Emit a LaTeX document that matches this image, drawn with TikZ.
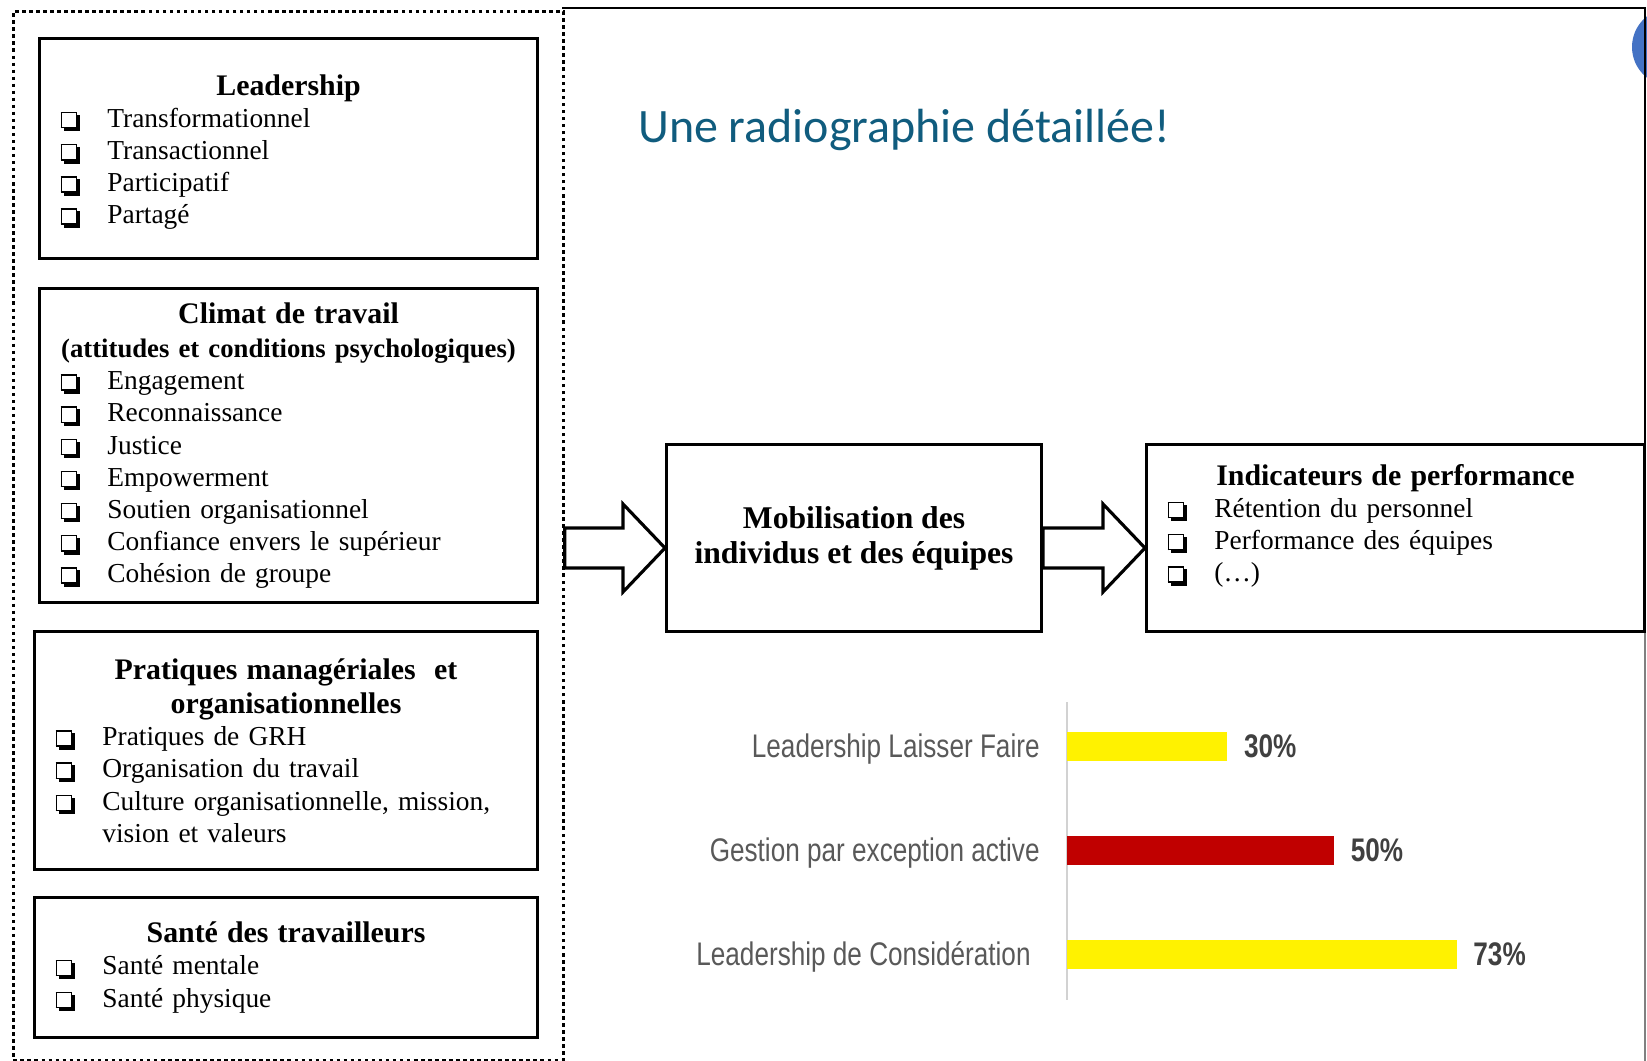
\documentclass[tikz,border=0pt]{standalone}
\usepackage{fontspec}
\setmainfont{Liberation Serif}
\newfontfamily\titlefont{Carlito}
\newfontfamily\chartfont[FakeStretch=0.8]{Liberation Sans}
\usetikzlibrary{positioning}
\usetikzlibrary{calc}

\definecolor{titleblue}{RGB}{16,92,126}
\definecolor{dotblue}{RGB}{68,114,196}
\definecolor{barred}{RGB}{192,0,0}
\definecolor{labelgray}{RGB}{89,89,89}
\definecolor{valuegray}{RGB}{64,64,64}
\definecolor{axisgray}{RGB}{210,210,210}

% shadowed check box made of rules
\newcommand{\chk}{\raisebox{-0.6pt}{%
  \rlap{\hspace{1.7pt}\raisebox{-1.7pt}{\rule{9.4pt}{9.4pt}}}%
  \rlap{\textcolor{white}{\rule{9.4pt}{9.4pt}}}%
  \rlap{\rule{9.4pt}{0.8pt}}\rlap{\rule{0.8pt}{9.4pt}}%
  \rlap{\hspace{8.6pt}\rule{0.8pt}{9.4pt}}\rlap{\raisebox{8.6pt}{\rule{9.4pt}{0.8pt}}}}}
\newcommand{\itm}[1]{\par\noindent\makebox[26.6pt][l]{\chk}%
  \parbox[t]{\dimexpr\hsize-26.6pt\relax}{\raggedright #1}}
\newcommand{\boxtitle}[1]{{\centering\bfseries\fontsize{17}{19.5}\selectfont #1\par}}

% block arrow from #1 to the tip #2
\newcommand{\bigarrow}[2]{%
  \draw[blockarrow] ($(#1)+(0,-20)$) -- ($(#2)+(-42,-20)$) -- ($(#2)+(-42,-44)$) -- (#2)
    -- ($(#2)+(-42,44)$) -- ($(#2)+(-42,20)$) -- ($(#1)+(0,20)$) -- cycle;}

\begin{document}
\begin{tikzpicture}
    [
      x = 0.02cm, y = -0.02cm,
      box/.style = {draw, line width=1.8pt, inner xsep=12pt, inner ysep=2pt,
                    font=\fontsize{15.6}{18.3}\selectfont\raggedright},
      framebox/.style = {draw, line width=1.6pt, dash pattern=on 2pt off 2pt},
      blockarrow/.style = {draw, fill=white, line width=1.8pt, line join=miter},
      bar/.style = {inner sep=0pt, minimum height=0.58cm},
      catlabel/.style = {inner sep=0pt, text=labelgray, font=\chartfont\fontsize{18.6}{20}\selectfont},
      value/.style = {inner sep=0pt, text=valuegray, font=\chartfont\bfseries\fontsize{18.6}{20}\selectfont},
    ]

    \useasboundingbox (0,0) rectangle (1647,1061);

    % slide frame and corner dot
    \begin{scope}
      \clip (0,0) rectangle (1647,1061);
      \fill[dotblue] (1671,47) circle[radius=0.78cm];
    \end{scope}
    \draw[line width=1.6pt] (562,8) -- (1645,8) -- (1645,443);
    \draw[gray, line width=0.6pt] (1645,630) -- (1645,1061);

    \node[framebox, minimum width=11cm, minimum height=20.98cm, anchor=north west] (frame) at (12,10) {};

    \node[anchor=base west, text=titleblue, font=\titlefont\fontsize{27.3}{30}\selectfont]
      (heading) at (632,143) {Une radiographie détaillée!};

    % determinants
    \node[box, anchor=north west, text width=9.96cm-24pt, minimum height=4.4cm] (lead) at (38,37) {
      \hrule height 0pt\kern4pt
      \boxtitle{Leadership}
      \itm{Transformationnel}
      \itm{Transactionnel}
      \itm{Participatif}
      \itm{Partagé}
    };

    \node[box, anchor=north west, text width=9.96cm-24pt, minimum height=6.28cm] (climat) at (38,287) {
      \boxtitle{Climat de travail\\
        {\fontsize{15.2}{19.5}\selectfont(attitudes et conditions psychologiques)}}
      \itm{Engagement}
      \itm{Reconnaissance}
      \itm{Justice}
      \itm{Empowerment}
      \itm{Soutien organisationnel}
      \itm{Confiance envers le supérieur}
      \itm{Cohésion de groupe}
    };

    \node[box, anchor=north west, text width=10.06cm-24pt, minimum height=4.76cm] (pratiques) at (33,630) {
      \boxtitle{Pratiques managériales\ \ et\\organisationnelles}
      \itm{Pratiques de GRH}
      \itm{Organisation du travail}
      \itm{Culture organisationnelle, mission,\\vision et valeurs}
    };

    \node[box, anchor=north west, text width=10.06cm-24pt, minimum height=2.8cm] (sante) at (33,896) {
      \boxtitle{Santé des travailleurs}
      \itm{Santé mentale}
      \itm{Santé physique}
    };

    % mobilisation and outcomes
    \node[box, anchor=north west, align=center, minimum width=7.5cm, minimum height=3.74cm,
          font=\bfseries\fontsize{18}{19.8}\selectfont] (mob) at (665,443)
      {Mobilisation des\\individus et des équipes};

    \node[box, anchor=north west, text width=9.96cm-24pt, minimum height=3.74cm] (ind) at (1145,443) {
      \boxtitle{Indicateurs de performance}
      \itm{Rétention du personnel}
      \itm{Performance des équipes}
      \itm{(\dots)}
      \par\kern14pt\hrule height 0pt
    };

    \coordinate (mid) at (0,548);
    \bigarrow{frame.east |- mid}{mob.west |- mid}
    \bigarrow{mob.east |- mid}{ind.west |- mid}

    % bar chart
    \draw[axisgray, line width=0.8pt] (1067,702) -- (1067,1000);
    \foreach \lbl/\val/\col/\yy/\xx [count=\i] in {Leadership Laisser Faire/30/yellow/746/1040,
        Gestion par exception active/50/barred/850/1040,
        Leadership de Considération/73/yellow/954/1031}
    {
      \node[bar, fill=\col, minimum width=\val*0.1067cm, anchor=west] (bar\i) at (1067,\yy) {};
      \node[catlabel, anchor=east] (cat\i) at (\xx,\yy+3) {\lbl};
      \node[value, right=0.32cm of bar\i] (val\i) {\val\%};
    }

\end{tikzpicture}
\end{document}
